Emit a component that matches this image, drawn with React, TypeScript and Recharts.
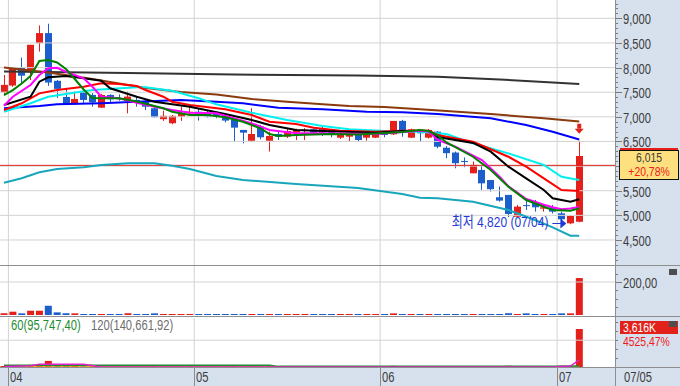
import React from "react";
import {
  ComposedChart,
  Bar,
  Line,
  XAxis,
  YAxis,
  ReferenceLine,
  ReferenceDot,
  Cell,
} from "recharts";

// The HTS font is a narrow bitmap face; Liberation Sans squeezed horizontally is close.
const FONT = "'Liberation Sans', 'Noto Sans CJK KR', sans-serif";
const SX = 0.8;
const UP = "#E4201A";
const DOWN = "#1C5FCC";
const AXIS_BG = "#D7E1EE";
const GRID = "#D3D3D3";
const SEP = "#8E8E8E";
const TICK = "#7A7A7A";
const TEXT = "#3C3C3C";

const X_DOMAIN: [number, number] = [-0.45, 69.04];
const PRICE_DOMAIN: [number, number] = [3992, 9372];
const VOL_DOMAIN: [number, number] = [0, 297];
const AMT_DOMAIN: [number, number] = [0, 4663];

// daily candles, early April → 07/05
const opens = [
  7500, 7635, 7998, 7951, 8496, 8700, 7731, 7404, 7255, 7500, 7445, 7186, 7445, 7377, 7323, 7343,
  7308, 7174, 6952, 6870, 7005, 7072, 7104, 7072, 7072, 7005, 6938, 6734, 6515, 6801, 6515, 6652,
  6597, 6679, 6720, 6747, 6767, 6734, 6577, 6597, 6686, 6577, 6577, 6700, 6645, 6917, 6577, 6734,
  6577, 6700, 6373, 6275, 6104, 5854, 5922, 5717, 5368, 5415, 4972, 5208, 5258, 5136, 5164, 5041,
  4838, 4870,
];
const highs = [
  7849, 8013, 8202, 8462, 8855, 8890, 7747, 7588, 7512, 7527, 7480, 7466, 7457, 7457, 7512, 7411,
  7343, 7180, 7125, 7037, 7206, 7221, 7174, 7119, 7104, 7020, 6972, 6734, 7174, 6836, 6700, 6700,
  6770, 6760, 6770, 6760, 6801, 6740, 6690, 6650, 6734, 6680, 6700, 6720, 6917, 6938, 6760, 6740,
  6750, 6710, 6407, 6295, 6173, 6091, 6003, 5717, 5585, 5415, 5211, 5299, 5313, 5211, 5211, 5074,
  5007, 6515,
];
const lows = [
  7445, 7608, 7684, 7747, 8325, 7629, 7384, 7241, 7241, 7261, 7206, 7180, 7302, 7327, 7071, 7206,
  7139, 6985, 6917, 6850, 6917, 7057, 6924, 6985, 6972, 6890, 6495, 6462, 6495, 6544, 6295, 6530,
  6570, 6530, 6530, 6660, 6611, 6585, 6550, 6495, 6495, 6515, 6570, 6585, 6630, 6597, 6570, 6495,
  6560, 6360, 6160, 5956, 5976, 5854, 5517, 5483, 5279, 4966, 4960, 5109, 5075, 5075, 5038, 4865,
  4820, 4860,
];
const closes = [
  7649, 7986, 7835, 8462, 8700, 7696, 7568, 7255, 7363, 7343, 7296, 7445, 7357, 7357, 7411, 7288,
  7206, 6993, 7020, 7020, 7072, 7104, 7051, 7005, 7020, 6924, 6781, 6679, 6652, 6585, 6611, 6597,
  6713, 6734, 6740, 6679, 6679, 6632, 6632, 6632, 6530, 6666, 6666, 6632, 6917, 6700, 6747, 6666,
  6734, 6393, 6262, 6058, 6091, 6024, 5650, 5531, 5299, 5028, 5177, 5188, 5164, 5164, 5075, 4920,
  4987, 6205,
];
// middle panel (ratio bars)
const volume = [
  10, 20, 10, 26, 26, 56, 16, 10, 10, 6, 6, 6, 6, 6, 10, 6,
  6, 10, 6, 6, 6, 6, 6, 6, 6, 6, 6, 6, 6, 6, 6, 6,
  6, 6, 6, 6, 6, 6, 6, 6, 6, 6, 6, 6, 10, 6, 6, 6,
  6, 6, 6, 6, 6, 6, 6, 6, 6, 10, 6, 10, 6, 6, 6, 10,
  10, 224,
];
// bottom panel (K shares)
const amount = [
  95, 120, 85, 200, 205, 580, 140, 90, 100, 70, 85, 60, 75, 65, 110, 70,
  80, 105, 60, 75, 65, 80, 70, 85, 60, 75, 95, 70, 90, 65, 80, 60,
  75, 65, 80, 70, 85, 60, 75, 65, 80, 70, 85, 60, 110, 75, 65, 80,
  70, 85, 75, 90, 60, 80, 95, 70, 85, 115, 80, 100, 75, 65, 80, 120,
  110, 3616,
];

type Pt = [number, number];
// moving averages read at sample days: [day index, price]
const ma5: Pt[] = [[0, 7443], [1, 7544], [2, 7676], [3, 7829], [4, 8133], [5, 8153], [6, 8103], [7, 7971], [8, 7768], [9, 7555], [10, 7382], [11, 7376], [13, 7376], [15, 7311], [18, 7173], [19, 7104], [21, 7037], [23, 7037], [25, 6990], [27, 6901], [29, 6767], [30, 6651], [31, 6611], [33, 6631], [37, 6651], [40, 6640], [45, 6690], [47, 6732], [48, 6712], [49, 6620], [50, 6480], [53, 6190], [55, 5920], [57, 5581], [59, 5311], [61, 5175], [62, 5108], [64, 5094], [65, 5143]];
const ma10: Pt[] = [[0, 7226], [1, 7408], [3, 7646], [4, 7849], [5, 7985], [6, 7997], [7, 7916], [9, 7782], [10, 7611], [11, 7408], [13, 7376], [15, 7287], [17, 7205], [19, 7138], [21, 7084], [24, 7071], [26, 6970], [28, 6868], [30, 6732], [33, 6666], [36, 6666], [42, 6651], [47, 6718], [48, 6702], [49, 6530], [51, 6394], [54, 6123], [56, 5784], [57, 5589], [58, 5462], [59, 5332], [60, 5275], [61, 5216], [62, 5165], [63, 5123], [64, 5137], [65, 5169]];
const ma20: Pt[] = [[0, 7240], [3, 7408], [4, 7713], [5, 7802], [7, 7829], [9, 7782], [11, 7733], [12, 7579], [15, 7408], [17, 7307], [21, 7205], [25, 7057], [28, 6935], [30, 6834], [33, 6732], [36, 6712], [42, 6678], [45, 6712], [48, 6712], [49, 6590], [53, 6470], [55, 6292], [57, 5988], [59, 5752], [61, 5514], [62, 5346], [64, 5277], [65, 5326]];
const ma30: Pt[] = [[0, 7138], [2, 7275], [4, 7477], [6, 7544], [9, 7611], [11, 7680], [13, 7666], [15, 7626], [16, 7544], [18, 7408], [19, 7307], [21, 7240], [25, 7153], [28, 7037], [30, 6901], [33, 6854], [35, 6779], [38, 6718], [42, 6698], [45, 6718], [48, 6718], [49, 6631], [53, 6495], [57, 6190], [59, 5988], [61, 5752], [63, 5514], [65, 5494]];
const ma40: Pt[] = [[0, 7104], [3, 7275], [5, 7408], [7, 7463], [10, 7544], [15, 7599], [16, 7599], [19, 7530], [22, 7376], [24, 7254], [28, 7084], [32, 6935], [36, 6814], [39, 6747], [43, 6712], [47, 6698], [50, 6651], [53, 6462], [57, 6259], [61, 6022], [63, 5784], [65, 5718]];
const ma60: Pt[] = [[0, 7173], [4, 7220], [6, 7254], [11, 7275], [15, 7307], [20, 7341], [24, 7307], [27, 7275], [31, 7185], [36, 7153], [41, 7104], [45, 7092], [49, 7057], [55, 6970], [59, 6834], [62, 6698], [65, 6540]];
const ma90: Pt[] = [[0, 8001], [5, 7900], [10, 7768], [16, 7585], [20, 7504], [24, 7453], [28, 7362], [32, 7307], [36, 7254], [39, 7220], [43, 7199], [47, 7153], [50, 7118], [55, 7057], [61, 6970], [65, 6905]];
const ma120: Pt[] = [[0, 7920], [14, 7890], [26, 7859], [40, 7839], [49, 7814], [56, 7758], [61, 7707], [65, 7666]];
const lowerBand: Pt[] = [[0, 5663], [2, 5752], [4, 5874], [6, 5941], [9, 5975], [11, 6022], [14, 6056], [17, 6056], [19, 6008], [21, 5941], [24, 5799], [27, 5718], [33, 5636], [40, 5555], [45, 5433], [47, 5358], [49, 5346], [53, 5277], [57, 5108], [60, 4905], [62, 4757], [64, 4587], [65, 4587]];
// bottom panel averages
const amtMa5: Pt[] = [[0, 40], [3, 120], [4, 250], [9, 250], [11, 10], [62, 10], [64, 95], [65, 680]];
const amtMa60: Pt[] = [[0, 160], [30, 160], [31, 60], [62, 60], [65, 96]];
const amtMa120: Pt[] = [[0, 10], [65, 10]];

const monthStarts = [1, 22, 43, 63];
const monthLabels = ["04", "05", "06", "07"];
const lastDate = "07/05";
const priceTicks = [4500, 5000, 5500, 6000, 6500, 7000, 7500, 8000, 8500, 9000];
const currentPrice = 6015;
const changeText = "+20,78%";
const lowIndex = 64;
const lowPrice = 4820;
const lowDate = "07/04";
const highIndex = 65;
const volLabel = "200,00";
const amtLast = "3,616K";
const amtChange = "4525,47%";
const legend60 = "60(95,747,40)";
const legend120 = "120(140,661,92)";

const rows = opens.map((open, i) => ({
  i,
  open,
  high: highs[i],
  low: lows[i],
  close: closes[i],
  range: [lows[i], highs[i]],
  vol: volume[i],
  amt: amount[i],
}));

const toSeries = (pts: Pt[]) => pts.map(([i, v]) => ({ i, v }));

const priceLines: [string, string, Pt[]][] = [
  ["lowerBand", "#18A6BC", lowerBand],
  ["ma120", "#333333", ma120],
  ["ma90", "#8B3A0E", ma90],
  ["ma60", "#0000FF", ma60],
  ["ma40", "#00F0F0", ma40],
  ["ma30", "#FF0000", ma30],
  ["ma20", "#000000", ma20],
  ["ma10", "#FF00FF", ma10],
  ["ma5", "#008000", ma5],
];
const amtLines: [string, string, Pt[]][] = [
  ["amtMa120", "#F0A000", amtMa120],
  ["amtMa60", "#1E8C32", amtMa60],
  ["amtMa5", "#E020C8", amtMa5],
];

// major labels shown on the price axis (6,000 sits under the price box)
const labelledPrices = priceTicks.filter((v) => v !== 6000);
const minorPrice: number[] = [];
for (let v = 4000; v <= 9300; v += 100) minorPrice.push(v);

function fmt(v: number) {
  return v.toLocaleString("en-US");
}

function NText({ x, y, fill, anchor = "start", size = 14, children }: any) {
  return (
    <text
      transform={`translate(${x},${y}) scale(${SX},1)`}
      textAnchor={anchor}
      dy="0.36em"
      fontSize={size}
      fontFamily={FONT}
      fill={fill}
    >
      {children}
    </text>
  );
}

function NLabel({ style, origin = "left", size = 14, children }: any) {
  return (
    <div
      style={{
        position: "absolute",
        whiteSpace: "nowrap",
        fontSize: size,
        lineHeight: "12px",
        transform: `scaleX(${SX})`,
        transformOrigin: `${origin} center`,
        ...style,
      }}
    >
      {children}
    </div>
  );
}

function Candle(props: any) {
  const { x, y, width, height, payload } = props;
  if (x == null || y == null || !payload) return null;
  const { open, close, high, low } = payload;
  const color = close >= open ? UP : DOWN;
  const top = height >= 0 ? y : y + height;
  const h = Math.abs(height);
  const k = high > low ? h / (high - low) : 0;
  const yOpen = top + (high - open) * k;
  const yClose = top + (high - close) * k;
  const bodyTop = Math.min(yOpen, yClose);
  const bodyH = Math.max(1, Math.abs(yOpen - yClose));
  const rx = Math.round(x);
  const cx = rx + Math.floor(width / 2) + 0.5;
  return (
    <g>
      <line x1={cx} x2={cx} y1={top} y2={top + h} stroke={color} strokeWidth={1} />
      <rect x={rx} y={bodyTop} width={width} height={bodyH} fill={color} />
    </g>
  );
}

function PriceTick(props: any) {
  const { x, y, payload } = props;
  const v = payload.value;
  const major = v % 500 === 0;
  const yy = Math.round(y) + 0.5;
  return (
    <g>
      <line x1={x} x2={x + (major ? 7 : 3)} y1={yy} y2={yy} stroke={TICK} />
      {labelledPrices.includes(v) && (
        <NText x={x + 8} y={yy} fill={TEXT}>
          {fmt(v)}
        </NText>
      )}
    </g>
  );
}

function VolTick(props: any) {
  const { x, y, payload } = props;
  const major = payload.value === 200;
  const yy = Math.round(y) + 0.5;
  return (
    <g>
      <line x1={x} x2={x + (major ? 7 : 3)} y1={yy} y2={yy} stroke={TICK} />
      {major && (
        <NText x={x + 8} y={yy} fill={TEXT}>
          {volLabel}
        </NText>
      )}
    </g>
  );
}

function AmtTick(props: any) {
  const { x, y } = props;
  const yy = Math.round(y) + 0.5;
  return <line x1={x} x2={x + 3} y1={yy} y2={yy} stroke={TICK} />;
}

function MonthTick(props: any) {
  const { x, y, payload } = props;
  const k = monthStarts.findIndex((m) => m - 0.5 === payload.value);
  const xx = Math.round(x) + 0.5;
  return (
    <g>
      <line x1={xx} x2={xx} y1={y} y2={y + 19} stroke="#8A8A8A" />
      <NText x={xx + 1.5} y={y + 10} fill={TEXT}>
        {monthLabels[k]}
      </NText>
    </g>
  );
}

function LowMarker(props: any) {
  const { cx, cy } = props;
  if (cx == null) return null;
  const c = "#1F3BD6";
  const yy = Math.round(cy - 1) + 0.5;
  const tip = cx - 4;
  return (
    <g>
      <NText x={cx - 22} y={cy - 3} fill={c} anchor="end" size={15}>
        {`최저 ${fmt(lowPrice)} (${lowDate})`}
      </NText>
      <line x1={cx - 18} x2={tip - 5} y1={yy} y2={yy} stroke={c} />
      <polygon points={`${tip},${yy} ${tip - 6},${yy - 5} ${tip - 6},${yy + 5}`} fill={c} />
    </g>
  );
}

function HighArrow(props: any) {
  const { cx, cy } = props;
  if (cx == null) return null;
  return (
    <g>
      <rect x={cx - 2} y={cy - 17} width={4} height={5} fill={UP} />
      <polygon points={`${cx - 4.5},${cy - 12} ${cx + 4.5},${cy - 12} ${cx},${cy - 7}`} fill={UP} />
    </g>
  );
}

function monthLines() {
  return monthStarts.map((m) => <ReferenceLine key={`m${m}`} x={m - 0.5} stroke={GRID} />);
}

const abs = (s: React.CSSProperties): React.CSSProperties => ({ position: "absolute", ...s });

export default function App() {
  return (
    <div
      style={abs({
        left: 0,
        top: 0,
        width: 680,
        height: 386,
        background: "#fff",
        overflow: "hidden",
        fontFamily: FONT,
      })}
    >
      <div style={abs({ left: 615, top: 0, width: 65, height: 386, background: AXIS_BG })} />
      <div style={abs({ left: 0, top: 368, width: 615, height: 18, background: AXIS_BG })} />

      {/* price panel */}
      <div style={abs({ left: 0, top: 0 })}>
        <ComposedChart width={680} height={265} data={rows} margin={{ top: 0, right: 0, bottom: 0, left: 0 }}>
          <XAxis dataKey="i" type="number" domain={X_DOMAIN} hide allowDataOverflow />
          <YAxis
            orientation="right"
            width={65}
            domain={PRICE_DOMAIN}
            allowDataOverflow
            ticks={minorPrice}
            interval={0}
            tickSize={0}
            tickMargin={0}
            axisLine={false}
            tickLine={false}
            tick={(p: any) => <PriceTick {...p} />}
          />
          {priceTicks.map((v) => (
            <ReferenceLine key={`g${v}`} y={v} stroke={GRID} />
          ))}
          {monthLines()}
          <ReferenceLine y={currentPrice} stroke="#E0201A" />
          {priceLines.map(([key, color, pts]) => (
            <Line
              key={key}
              data={toSeries(pts)}
              dataKey="v"
              type="linear"
              stroke={color}
              strokeWidth={2}
              dot={false}
              activeDot={false}
              isAnimationActive={false}
            />
          ))}
          <Bar dataKey="range" barSize={7} shape={(p: any) => <Candle {...p} />} isAnimationActive={false} />
          <ReferenceDot x={lowIndex} y={lowPrice} r={0} ifOverflow="visible" shape={(p: any) => <LowMarker {...p} />} />
          <ReferenceDot x={highIndex} y={highs[highIndex]} r={0} ifOverflow="visible" shape={(p: any) => <HighArrow {...p} />} />
        </ComposedChart>
      </div>

      {/* middle panel */}
      <div style={abs({ left: 0, top: 266 })}>
        <ComposedChart width={680} height={49} data={rows} margin={{ top: 0, right: 0, bottom: 0, left: 0 }}>
          <XAxis dataKey="i" type="number" domain={X_DOMAIN} hide allowDataOverflow />
          <YAxis
            orientation="right"
            width={65}
            domain={VOL_DOMAIN}
            allowDataOverflow
            ticks={[0, 50, 100, 150, 200, 250]}
            interval={0}
            tickSize={0}
            tickMargin={0}
            axisLine={false}
            tickLine={false}
            tick={(p: any) => <VolTick {...p} />}
          />
          <ReferenceLine y={200} stroke={GRID} />
          {monthLines()}
          <Bar dataKey="vol" barSize={7} isAnimationActive={false}>
            {rows.map((r, k) => (
              <Cell key={k} fill={r.close >= r.open ? UP : DOWN} />
            ))}
          </Bar>
        </ComposedChart>
      </div>

      {/* bottom panel + date axis */}
      <div style={abs({ left: 0, top: 317 })}>
        <ComposedChart width={680} height={69} data={rows} margin={{ top: 1, right: 0, bottom: 0, left: 0 }}>
          <XAxis
            dataKey="i"
            type="number"
            domain={X_DOMAIN}
            allowDataOverflow
            ticks={monthStarts.map((m) => m - 0.5)}
            interval={0}
            height={19}
            tickSize={0}
            tickMargin={0}
            axisLine={false}
            tickLine={false}
            tick={(p: any) => <MonthTick {...p} />}
          />
          <YAxis
            orientation="right"
            width={65}
            domain={AMT_DOMAIN}
            allowDataOverflow
            ticks={[0, 850, 1700, 2550, 3400, 4250]}
            interval={0}
            tickSize={0}
            tickMargin={0}
            axisLine={false}
            tickLine={false}
            tick={(p: any) => <AmtTick {...p} />}
          />
          <ReferenceLine y={2550} stroke={GRID} />
          {monthLines()}
          <Bar dataKey="amt" barSize={7} isAnimationActive={false}>
            {rows.map((r, k) => (
              <Cell key={k} fill={k > 0 && amount[k] < amount[k - 1] ? DOWN : UP} />
            ))}
          </Bar>
          {amtLines.map(([key, color, pts]) => (
            <Line
              key={key}
              data={toSeries(pts)}
              dataKey="v"
              type="linear"
              stroke={color}
              strokeWidth={1.5}
              dot={false}
              activeDot={false}
              isAnimationActive={false}
            />
          ))}
        </ComposedChart>
      </div>

      {/* separators */}
      <div style={abs({ left: 0, top: 265, width: 680, height: 1, background: SEP })} />
      <div style={abs({ left: 0, top: 316, width: 680, height: 1, background: SEP })} />
      <div style={abs({ left: 0, top: 367, width: 680, height: 1, background: SEP })} />
      <div style={abs({ left: 615, top: 0, width: 1, height: 386, background: SEP })} />

      {/* current price box */}
      <div style={abs({ left: 620, top: 148, width: 58, height: 2, background: UP })} />
      <div
        style={abs({
          left: 619,
          top: 150,
          width: 58,
          height: 28,
          background: "#FFE07E",
          border: "1px solid #111",
        })}
      >
        <NLabel origin="center" size={13} style={{ left: 0, top: 1, width: 58, textAlign: "center", color: "#3A3A3A" }}>
          {fmt(currentPrice)}
        </NLabel>
        <NLabel origin="center" size={13} style={{ left: 0, top: 15, width: 58, textAlign: "center", color: "#F01818" }}>
          {changeText}
        </NLabel>
      </div>

      {/* panel labels */}
      <div style={abs({ left: 669, top: 269, width: 8, height: 6, background: "#4E4E4E" })} />
      <div style={abs({ left: 620, top: 321, width: 58, height: 13, background: "#E3211B" })} />
      <NLabel size={13} style={{ left: 623, top: 321.5, color: "#fff" }}>{amtLast}</NLabel>
      <div style={abs({ left: 669, top: 321, width: 8, height: 6, background: "#4E4E4E" })} />
      <NLabel size={13} style={{ left: 623, top: 336, color: "#F01818" }}>{amtChange}</NLabel>
      <NLabel style={{ left: 11, top: 319, color: "#1E8C32" }}>{legend60}</NLabel>
      <NLabel style={{ left: 91, top: 319, color: "#6E6E6E" }}>{legend120}</NLabel>
      <NLabel style={{ left: 624, top: 371, color: TEXT }}>{lastDate}</NLabel>
    </div>
  );
}
